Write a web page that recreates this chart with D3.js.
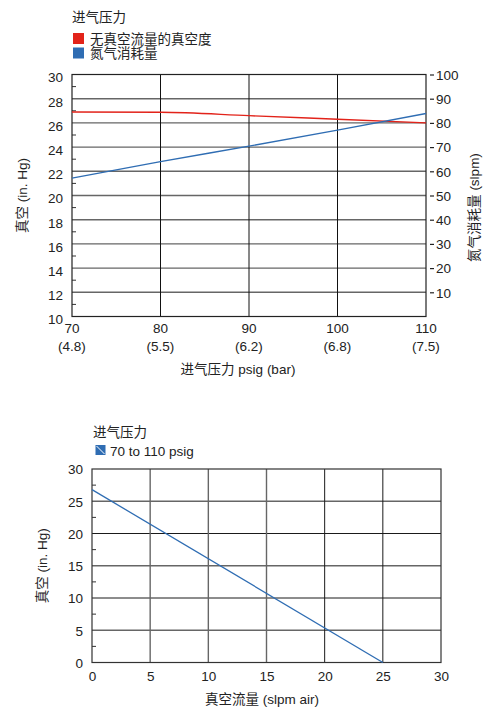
<!DOCTYPE html>
<html><head><meta charset="utf-8">
<script src="https://cdn.jsdelivr.net/npm/d3@7"></script>
<style>
body{margin:0;background:#fff;}
text{font-family:"Liberation Sans","Noto Sans CJK SC",sans-serif;font-size:13.5px;fill:#222;}
</style></head>
<body><svg id="c" width="489" height="708"></svg>
<script>
// ---- Chart 1 data ----
const pressurePsig = [70, 80, 90, 100, 110];
const pressureBar = ["(4.8)", "(5.5)", "(6.2)", "(6.8)", "(7.5)"];
const vacuumNoFlow = [26.9, 26.88, 26.6, 26.3, 26.0];      // in. Hg (left axis)
const nitrogenUse = [57.2, 64.0, 70.4, 77.0, 83.9];        // slpm (right axis)
const leftTicks1 = [10, 12, 14, 16, 18, 20, 22, 24, 26, 28, 30];
const rightTicks1 = [10, 20, 30, 40, 50, 60, 70, 80, 90, 100];
const legend1Title = "进气压力";
const legend1Items = ["无真空流量的真空度", "氮气消耗量"];
// ---- Chart 2 data ----
const flowSlpm = [0, 25];
const vacuumAtFlow = [26.8, 0];
const ticks2 = [0, 5, 10, 15, 20, 25, 30];
const legend2Title = "进气压力";
const legend2Item = "70 to 110 psig";

const RED = "#e2231a", BLUE = "#2f6db3";
const FS = 13.5;
const svg = d3.select("#c");

// ================= Chart 1 =================
const L1 = 72, R1 = 426, T1 = 74.5, B1 = 316.5;
const x1 = d3.scaleLinear().domain([70, 110]).range([L1, R1]);
const yL = d3.scaleLinear().domain([10, 30]).range([B1, T1]);
const yR = d3.scaleLinear().domain([0, 100]).range([B1, T1]);
const g1 = svg.append("g");

g1.selectAll(".hg").data(leftTicks1.filter(d => d > 10 && d < 30)).join("line")
  .attr("x1", L1).attr("x2", R1).attr("y1", d => yL(d)).attr("y2", d => yL(d))
  .attr("stroke", "#666").attr("stroke-width", 1.4);
g1.selectAll(".vg").data(pressurePsig.filter(d => d > 70 && d < 110)).join("line")
  .attr("x1", d => x1(d)).attr("x2", d => x1(d)).attr("y1", T1).attr("y2", B1)
  .attr("stroke", "#111").attr("stroke-width", 1);
g1.selectAll(".mt").data(d3.range(11, 30, 2)).join("line")
  .attr("x1", L1).attr("x2", L1 + 4).attr("y1", d => yL(d)).attr("y2", d => yL(d))
  .attr("stroke", "#333").attr("stroke-width", 1);
g1.append("rect").attr("x", L1).attr("y", T1).attr("width", R1 - L1).attr("height", B1 - T1)
  .attr("fill", "none").attr("stroke", "#222").attr("stroke-width", 1.2);

const axL = g1.append("g").attr("transform", `translate(${L1},0)`)
  .call(d3.axisLeft(yL).tickValues(leftTicks1).tickSize(0).tickPadding(9));
axL.select(".domain").remove();
axL.selectAll("text").attr("font-size", FS).attr("dy", "0.55em").attr("fill", "#222")
  .style("font-family", '"Liberation Sans",sans-serif');
const axR = g1.append("g").attr("transform", `translate(${R1},0)`)
  .call(d3.axisRight(yR).tickValues(rightTicks1).tickSize(0).tickPadding(10));
axR.select(".domain").remove();
axR.selectAll("text").attr("font-size", FS).attr("dy", "0.36em").attr("fill", "#222")
  .style("font-family", '"Liberation Sans",sans-serif');
axR.selectAll(".tick").append("line").attr("x1", 4).attr("x2", 8).attr("y1", 0).attr("y2", 0)
  .attr("stroke", "#222").attr("stroke-width", 1.2);

const axB = g1.append("g").attr("transform", `translate(0,${B1})`);
pressurePsig.forEach((p, i) => {
  axB.append("text").attr("x", x1(p)).attr("y", 16).attr("text-anchor", "middle").text(p);
  axB.append("text").attr("x", x1(p)).attr("y", 34).attr("text-anchor", "middle").text(pressureBar[i]);
});
g1.append("text").attr("x", 238).attr("y", 374).attr("text-anchor", "middle").text("进气压力 psig (bar)");
g1.append("text").attr("transform", `translate(27,${(T1 + B1) / 2}) rotate(-90)`)
  .attr("text-anchor", "middle").text("真空 (in. Hg)");
g1.append("text").attr("transform", `translate(479,${(T1 + B1) / 2 + 12}) rotate(-90)`)
  .attr("text-anchor", "middle").text("氮气消耗量 (slpm)");

const lineL = d3.line().x((d, i) => x1(pressurePsig[i])).y(d => yL(d)).curve(d3.curveMonotoneX);
const lineR = d3.line().x((d, i) => x1(pressurePsig[i])).y(d => yR(d)).curve(d3.curveMonotoneX);
g1.append("path").datum(vacuumNoFlow).attr("d", lineL).attr("fill", "none").attr("stroke", RED).attr("stroke-width", 1.4);
g1.append("path").datum(nitrogenUse).attr("d", lineR).attr("fill", "none").attr("stroke", BLUE).attr("stroke-width", 1.4);

g1.append("text").attr("x", 72).attr("y", 22).text(legend1Title);
[RED, BLUE].forEach((c, i) => {
  g1.append("rect").attr("x", 73).attr("y", 33 + i * 14.5).attr("width", 11).attr("height", 11).attr("fill", c);
  g1.append("text").attr("x", 90).attr("y", 43.5 + i * 14.5).text(legend1Items[i]);
});

// ================= Chart 2 =================
const L2 = 92, R2 = 441, T2 = 469, B2 = 662.5;
const x2 = d3.scaleLinear().domain([0, 30]).range([L2, R2]);
const y2 = d3.scaleLinear().domain([0, 30]).range([B2, T2]);
const g2 = svg.append("g");
const hdark = [20, 10], vdark = [20, 25];
g2.selectAll(".hg2").data(ticks2.filter(d => d > 0 && d < 30)).join("line")
  .attr("x1", L2).attr("x2", R2).attr("y1", d => y2(d)).attr("y2", d => y2(d))
  .attr("stroke", d => hdark.includes(d) ? "#1a1a1a" : "#666").attr("stroke-width", d => hdark.includes(d) ? 1 : 1.4);
g2.selectAll(".vg2").data(ticks2.filter(d => d > 0 && d < 30)).join("line")
  .attr("x1", d => x2(d)).attr("x2", d => x2(d)).attr("y1", T2).attr("y2", B2)
  .attr("stroke", d => vdark.includes(d) ? "#1a1a1a" : "#666").attr("stroke-width", d => vdark.includes(d) ? 1 : 1.4);
g2.selectAll(".mt2").data(d3.range(2.5, 30, 5)).join("line")
  .attr("x1", L2).attr("x2", L2 + 4).attr("y1", d => y2(d)).attr("y2", d => y2(d))
  .attr("stroke", "#333").attr("stroke-width", 1);
g2.append("rect").attr("x", L2).attr("y", T2).attr("width", R2 - L2).attr("height", B2 - T2)
  .attr("fill", "none").attr("stroke", "#333").attr("stroke-width", 1.2);

const axL2 = g2.append("g").attr("transform", `translate(${L2},0)`)
  .call(d3.axisLeft(y2).tickValues(ticks2).tickSize(0).tickPadding(9));
axL2.select(".domain").remove();
axL2.selectAll("text").attr("font-size", FS).attr("dy", "0.36em").attr("fill", "#222")
  .style("font-family", '"Liberation Sans",sans-serif');
const axB2 = g2.append("g").attr("transform", `translate(0,${B2})`)
  .call(d3.axisBottom(x2).tickValues(ticks2).tickSize(0).tickPadding(9));
axB2.select(".domain").remove();
axB2.selectAll("text").attr("font-size", FS).attr("fill", "#222")
  .style("font-family", '"Liberation Sans",sans-serif');

g2.append("text").attr("x", 262).attr("y", 704).attr("text-anchor", "middle").text("真空流量 (slpm air)");
g2.append("text").attr("transform", `translate(47,${(T2 + B2) / 2}) rotate(-90)`)
  .attr("text-anchor", "middle").text("真空 (in. Hg)");

const line2 = d3.line().x((d, i) => x2(flowSlpm[i])).y(d => y2(d));
g2.append("path").datum(vacuumAtFlow).attr("d", line2).attr("fill", "none").attr("stroke", BLUE).attr("stroke-width", 1.3);

g2.append("text").attr("x", 93).attr("y", 437).text(legend2Title);
g2.append("rect").attr("x", 95.5).attr("y", 445).attr("width", 10).attr("height", 10).attr("fill", BLUE);
g2.append("line").attr("x1", 96.5).attr("y1", 446).attr("x2", 104.5).attr("y2", 454).attr("stroke", "#fff").attr("stroke-width", 1);
g2.append("text").attr("x", 110).attr("y", 455.5).text(legend2Item);
</script></body></html>
